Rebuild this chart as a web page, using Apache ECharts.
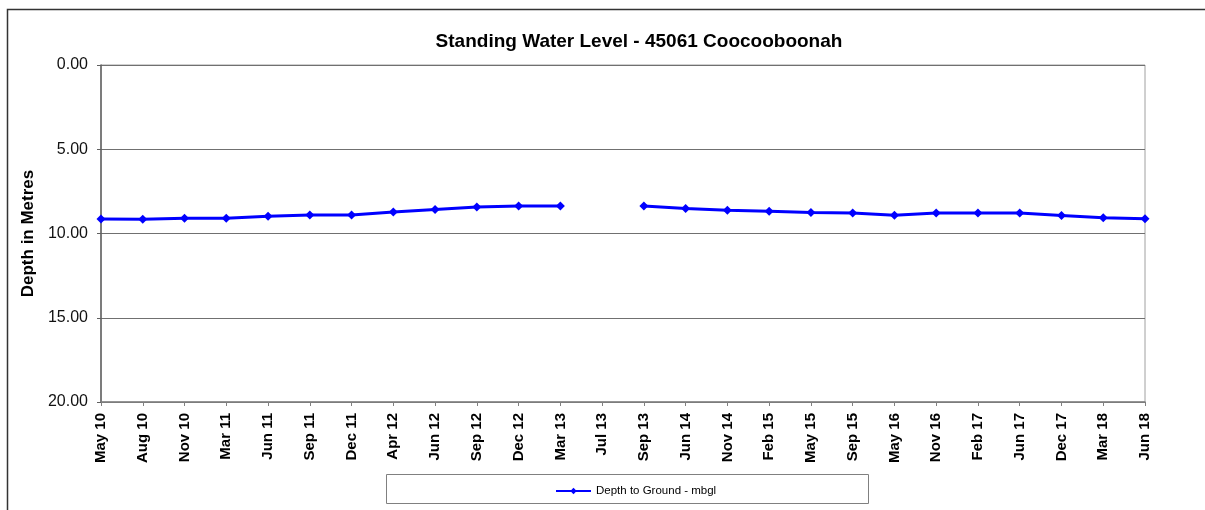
<!DOCTYPE html>
<html>
<head>
<meta charset="utf-8">
<script src="https://cdn.jsdelivr.net/npm/echarts@6/dist/echarts.min.js"></script>
<style>
  html, body { margin: 0; padding: 0; background: #fff; }
  #chart { width: 1205px; height: 510px; }
</style>
</head>
<body>
<div id="chart"></div>
<script>
// survey dates (category axis)
var dates = ["May 10", "Aug 10", "Nov 10", "Mar 11", "Jun 11", "Sep 11", "Dec 11",
  "Apr 12", "Jun 12", "Sep 12", "Dec 12", "Mar 13", "Jul 13", "Sep 13", "Jun 14",
  "Nov 14", "Feb 15", "May 15", "Sep 15", "May 16", "Nov 16", "Feb 17", "Jun 17",
  "Dec 17", "Mar 18", "Jun 18"];
// depth to ground, metres below ground level (no reading Jul 13)
var depth = [9.14, 9.16, 9.10, 9.10, 8.98, 8.90, 8.90, 8.72, 8.57, 8.43, 8.37, 8.37,
  null, 8.37, 8.52, 8.62, 8.68, 8.75, 8.79, 8.91, 8.79, 8.79, 8.79, 8.93, 9.07, 9.13];
var yTicks = [0, 5, 10, 15, 20];

var chart = echarts.init(document.getElementById("chart"));
var font = "Liberation Sans, Arial, sans-serif";

chart.setOption({
  animation: false,
  title: {
    text: "Standing Water Level - 45061 Coocooboonah",
    left: 634, top: 27, textAlign: "center",
    textStyle: { fontFamily: font, fontSize: 19, fontWeight: "bold", color: "#000" }
  },
  graphic: [
    { type: "rect", shape: { x: 7.5, y: 9.5, width: 1220, height: 520 },
      style: { fill: null, stroke: "#333", lineWidth: 1.5 }, silent: true },
    { type: "rect", shape: { x: 386.5, y: 474.5, width: 482, height: 29 },
      style: { fill: "#fff", stroke: "#808080", lineWidth: 1 }, silent: true, z: 0 }
  ],
  legend: {
    left: 550, top: 480, itemWidth: 35, itemHeight: 8, itemGap: 3,
    textStyle: { fontFamily: font, fontSize: 11.5, color: "#000" },
    data: ["Depth to Ground - mbgl"], z: 10
  },
  grid: {
    left: 101, right: 60, top: 65, bottom: 108,
    show: true, borderColor: "#a0a0a0", borderWidth: 1
  },
  xAxis: {
    type: "category", data: dates, boundaryGap: false,
    axisLine: { onZero: false, lineStyle: { color: "#808080", width: 1.5 } },
    axisTick: { show: true, length: 4, alignWithLabel: true, lineStyle: { color: "#808080" } },
    axisLabel: { rotate: 90, interval: 0, margin: 11, fontFamily: font, fontSize: 15,
      fontWeight: "bold", color: "#000" },
    splitLine: { show: false }
  },
  yAxis: {
    type: "value", inverse: true, min: yTicks[0], max: yTicks[yTicks.length - 1], interval: 5,
    name: "Depth in Metres", nameLocation: "middle", nameGap: 62, nameRotate: 90,
    nameTextStyle: { fontFamily: font, fontSize: 17, fontWeight: "bold", color: "#000" },
    axisLine: { show: true, lineStyle: { color: "#606060", width: 1.5 } },
    axisTick: { show: true, length: 4, lineStyle: { color: "#606060" } },
    axisLabel: { margin: 13, fontFamily: font, fontSize: 16, color: "#111",
      formatter: function (v) { return v.toFixed(2); } },
    splitLine: { show: true, lineStyle: { color: "#707070", width: 1 } }
  },
  series: [{
    name: "Depth to Ground - mbgl",
    type: "line", data: depth, connectNulls: false,
    symbol: "diamond", symbolSize: 9,
    lineStyle: { color: "#0000ff", width: 3 },
    itemStyle: { color: "#0000ff" }
  }]
});
</script>
</body>
</html>
